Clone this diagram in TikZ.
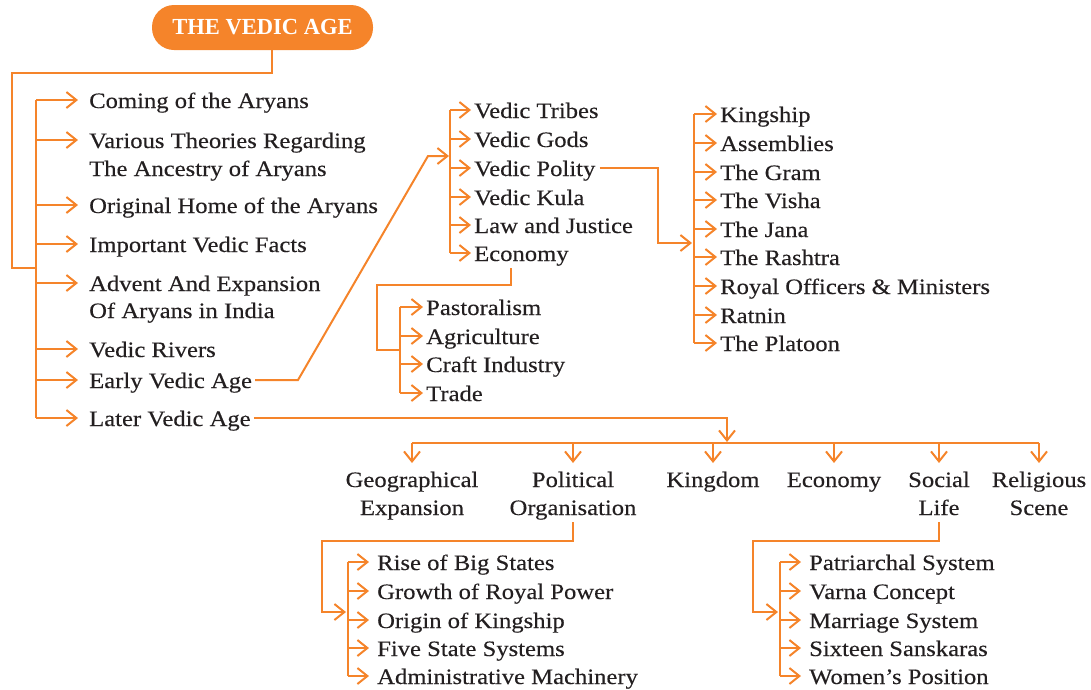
\documentclass[tikz,border=0pt]{standalone}
\usepackage{fontspec}
\setmainfont{Liberation Serif}[FakeStretch=1.12,FakeBold=0.25]
\newfontfamily\titlefont{Liberation Serif}[FakeStretch=0.98]
\usetikzlibrary{arrows.meta}
\definecolor{vorange}{HTML}{F5842A}
\definecolor{vtext}{HTML}{231F20}
\begin{document}
\begin{tikzpicture}[x=1pt,y=-1pt,
  conn/.style={draw=vorange,line width=2pt,line join=miter},
  arr/.style={conn,-{Straight Barb[length=10pt,width=16pt,line width=2pt]}},
  item/.style={anchor=west,inner sep=0pt,text=vtext,text height=16pt,text depth=0pt,font=\fontsize{22}{28}\selectfont},
  col/.style={anchor=center,inner sep=0pt,text=vtext,text height=16pt,text depth=0pt,font=\fontsize{22}{28}\selectfont},
  titlebox/.style={fill=vorange,rounded corners=22pt,minimum width=221pt,minimum height=45pt,inner sep=0pt,text=white,font=\titlefont\bfseries\fontsize{23}{23}\selectfont}]
\useasboundingbox (0,0) rectangle (1091,689);
% title
\node[titlebox] (title) at (262.5,27.5) {THE VEDIC AGE};
% left list
\node[item] (coming) at (89,100) {Coming of the Aryans};
\node[item] (various) at (89,140) {Various Theories Regarding};
\node[item] (various2) at (89,168) {The Ancestry of Aryans};
\node[item] (original) at (89,205) {Original Home of the Aryans};
\node[item] (important) at (89,244) {Important Vedic Facts};
\node[item] (advent) at (89,283) {Advent And Expansion};
\node[item] (advent2) at (89,310) {Of Aryans in India};
\node[item] (rivers) at (89,349) {Vedic Rivers};
\node[item] (early) at (89,380) {Early Vedic Age};
\node[item] (later) at (89,418) {Later Vedic Age};
\coordinate (b1) at (36,0);
\coordinate (tl) at (12,73);
\draw[conn] ([xshift=9.5pt]title.south) |- (tl) |- (36,268);
\draw[conn] (b1 |- coming.west) -- (b1 |- later.west);
\foreach \n in {coming,various,original,important,advent,rivers,early,later}
  \draw[arr] (b1 |- \n.west) -- ([xshift=-11pt]\n.west);
% early vedic age
\node[item] (tribes) at (474,110) {Vedic Tribes};
\node[item] (gods) at (474,139) {Vedic Gods};
\node[item] (polity) at (474,168) {Vedic Polity};
\node[item] (kula) at (474,197) {Vedic Kula};
\node[item] (law) at (474,225) {Law and Justice};
\node[item] (econ) at (474,253) {Economy};
\coordinate (b2) at (450,156);
\draw[arr] ([xshift=3pt]early.east) -- (298,380) -- (428,156) -- ([xshift=-1pt]b2);
\draw[conn] (b2 |- tribes.west) -- (b2 |- econ.west);
\foreach \n in {tribes,gods,polity,kula,law,econ}
  \draw[arr] (b2 |- \n.west) -- ([xshift=-3pt]\n.west);
% vedic polity
\node[item] (kingship) at (720,114) {Kingship};
\node[item] (assemb) at (720,143) {Assemblies};
\node[item] (gram) at (720,172) {The Gram};
\node[item] (visha) at (720,200) {The Visha};
\node[item] (jana) at (720,229) {The Jana};
\node[item] (rashtra) at (720,257) {The Rashtra};
\node[item] (royal) at (720,286) {Royal Officers \& Ministers};
\node[item] (ratnin) at (720,315) {Ratnin};
\node[item] (platoon) at (720,343) {The Platoon};
\coordinate (b3) at (694,243);
\draw[arr] ([xshift=4pt]polity.east) -| (658,243) -- ([xshift=-2pt]b3);
\draw[conn] (b3 |- kingship.west) -- (b3 |- platoon.west);
\foreach \n in {kingship,assemb,gram,visha,jana,rashtra,royal,ratnin,platoon}
  \draw[arr] (b3 |- \n.west) -- ([xshift=-3pt]\n.west);
% economy (early)
\node[item] (pastoral) at (426,307) {Pastoralism};
\node[item] (agri) at (426,336) {Agriculture};
\node[item] (craft) at (426,364) {Craft Industry};
\node[item] (trade) at (426,393) {Trade};
\coordinate (b4) at (400,350);
\draw[conn] ([xshift=37pt,yshift=-7pt]econ.south west) |- (377,285) |- (b4);
\draw[conn] (b4 |- pastoral.west) -- (b4 |- trade.west);
\foreach \n in {pastoral,agri,craft,trade}
  \draw[arr] (b4 |- \n.west) -- ([xshift=-3pt]\n.west);
% later vedic age
\node[col] (geo) at (412,479) {Geographical};
\node[col] (geo2) at (412,507) {Expansion};
\node[col] (pol) at (573,479) {Political};
\node[col] (pol2) at (573,507) {Organisation};
\node[col] (king) at (713,479) {Kingdom};
\node[col] (leco) at (834,479) {Economy};
\node[col] (soc) at (939,479) {Social};
\node[col] (soc2) at (939,507) {Life};
\node[col] (rel) at (1039,479) {Religious};
\node[col] (rel2) at (1039,507) {Scene};
\coordinate (b5) at (727,443);
\draw[arr] ([xshift=3pt]later.east) -| ([yshift=1pt]b5);
\draw[conn] (b5 -| geo.north) -- (b5 -| rel.north);
\foreach \n in {geo,pol,king,leco,soc,rel}
  \draw[arr] (b5 -| \n.north) -- ++(0,20);
% political organisation
\node[item] (rise) at (377,562) {Rise of Big States};
\node[item] (growth) at (377,591) {Growth of Royal Power};
\node[item] (origin) at (377,620) {Origin of Kingship};
\node[item] (five) at (377,648) {Five State Systems};
\node[item] (admin) at (377,676) {Administrative Machinery};
\coordinate (b6) at (348,612);
\draw[arr] ([yshift=-7pt]pol2.south) |- (322,541) |- ([xshift=-2pt]b6);
\draw[conn] (b6 |- rise.west) -- (b6 |- admin.west);
\foreach \n in {rise,growth,origin,five,admin}
  \draw[arr] (b6 |- \n.west) -- ([xshift=-8pt]\n.west);
% social life
\node[item] (patri) at (809,562) {Patriarchal System};
\node[item] (varna) at (809,591) {Varna Concept};
\node[item] (marriage) at (809,620) {Marriage System};
\node[item] (sixteen) at (809,648) {Sixteen Sanskaras};
\node[item] (women) at (809,676) {Women’s Position};
\coordinate (b7) at (780,612);
\draw[arr] ([yshift=-7pt]soc2.south) |- (753,541) |- ([xshift=-2pt]b7);
\draw[conn] (b7 |- patri.west) -- (b7 |- women.west);
\foreach \n in {patri,varna,marriage,sixteen,women}
  \draw[arr] (b7 |- \n.west) -- ([xshift=-8pt]\n.west);
\end{tikzpicture}
\end{document}
